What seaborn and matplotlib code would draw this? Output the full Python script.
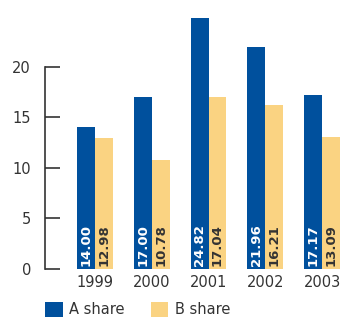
import matplotlib
matplotlib.use("Agg")
import matplotlib.pyplot as plt
import seaborn as sns
import pandas as pd

years = ["1999", "2000", "2001", "2002", "2003"]
a_share = [14.00, 17.00, 24.82, 21.96, 17.17]
b_share = [12.98, 10.78, 17.04, 16.21, 13.09]
series = ["A share", "B share"]
colors = ["#00509d", "#fad382"]
label_colors = ["white", "#333333"]

df = pd.DataFrame({
    "year": years * 2,
    "value": a_share + b_share,
    "series": [series[0]] * len(years) + [series[1]] * len(years),
})

sns.set_style("white")
plt.rcParams["font.family"] = ["DejaVu Sans"]

fig = plt.figure(figsize=(3.42, 3.18), dpi=100)
ax = fig.add_axes([45 / 342, 49 / 318, 1 - 45 / 342, 269 / 318])

sns.barplot(data=df, x="year", y="value", hue="series", palette=colors,
            width=0.63, ax=ax, saturation=1, edgecolor="none")

ax.set_ylim(0, 26.6)
ax.set_xlim(-0.88, 4.35)
ax.set_xlabel("")
ax.set_ylabel("")
ax.set_yticks([0, 5, 10, 15, 20])
for s in ["top", "right", "bottom"]:
    ax.spines[s].set_visible(False)
ax.spines["left"].set_bounds(0, 20)
ax.spines["left"].set_color("#333333")
ax.spines["left"].set_linewidth(1.2)
ax.tick_params(axis="y", direction="in", length=11, width=1.2, color="#333333",
               pad=10, labelsize=10.5, labelcolor="#333333", left=True)
ax.tick_params(axis="x", length=0, pad=4, labelsize=10.5, labelcolor="#333333")

for cont, lc in zip(ax.containers, label_colors):
    for bar, val in zip(cont, cont.datavalues):
        ax.annotate(f"{val:.2f}", xy=(bar.get_x() + bar.get_width() / 2, 0),
                    xytext=(0, 2.5), textcoords="offset points",
                    rotation=90, ha="center", va="bottom",
                    fontsize=9.5, fontweight="bold", color=lc)

sns.move_legend(ax, "center left", bbox_to_anchor=(0, -0.152), ncol=2,
                frameon=False, title=None, fontsize=10.5, borderpad=0,
                borderaxespad=0, handlelength=1.2, handleheight=1.15,
                handletextpad=0.45, columnspacing=1.8)
for t in ax.get_legend().get_texts():
    t.set_color("#333333")

fig.savefig("out.png", dpi=100)
